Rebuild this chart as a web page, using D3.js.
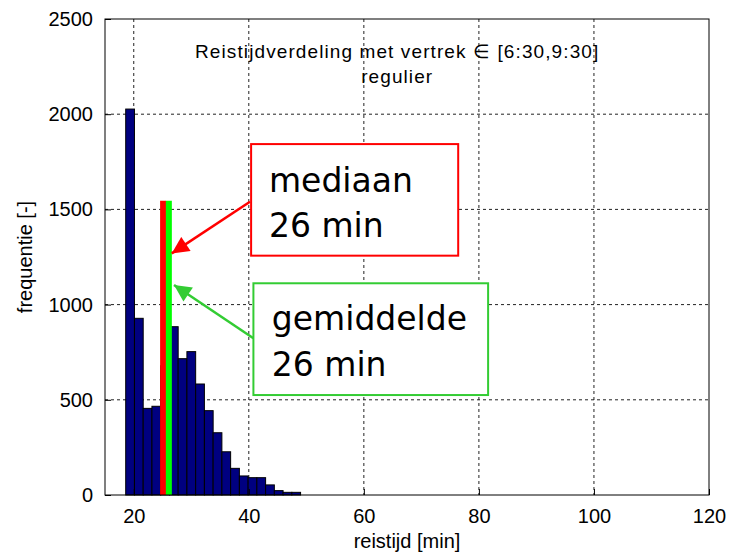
<!DOCTYPE html>
<html>
<head>
<meta charset="utf-8">
<script src="https://cdn.jsdelivr.net/npm/d3@7"></script>
<style>
  body { margin: 0; background: #fff; }
  svg { display: block; font-family: "Liberation Sans", Arial, sans-serif; }
</style>
</head>
<body>
<svg id="chart"></svg>
<script>
// Histogram of travel times (bin centres in minutes, counts)
const binCenters = [19.36, 20.88, 22.40, 23.92, 25.44, 26.96, 28.48, 30.00, 31.52, 33.04,
                    34.56, 36.08, 37.60, 39.12, 40.64, 42.16, 43.68, 45.20, 46.72, 48.24];
const binWidth = 1.52;
const counts = [2027, 928, 455, 466, 679, 884, 716, 753, 583, 443,
                327, 227, 140, 100, 91, 91, 53, 23, 14, 14];

const xTicks = [20, 40, 60, 80, 100, 120];
const yTicks = [0, 500, 1000, 1500, 2000, 2500];

// median / mean markers
const medianX = 25.1, meanX = 26.1, markerHeight = 1545;

const titleLines = ['Reistijdverdeling met vertrek \u2208 [6:30,9:30]', 'regulier'];

const width = 729, height = 553;
const margin = { top: 19, right: 20, bottom: 58, left: 105 };
const inner = { w: width - margin.left - margin.right, h: height - margin.top - margin.bottom };

const svg = d3.select('#chart').attr('width', width).attr('height', height);
const g = svg.append('g').attr('transform', `translate(${margin.left},${margin.top})`);

const x = d3.scaleLinear().domain([15, 120]).range([0, inner.w]);
const y = d3.scaleLinear().domain([0, 2500]).range([inner.h, 0]);

// Grid (dotted)
g.append('g')
    .selectAll('line')
    .data(yTicks.filter(d => d > 0 && d < 2500))
    .join('line')
    .attr('x1', 0).attr('x2', inner.w)
    .attr('y1', d => y(d)).attr('y2', d => y(d))
    .attr('stroke', '#222').attr('stroke-dasharray', '3,3');
g.append('g')
    .selectAll('line')
    .data(xTicks.filter(d => d < 120))
    .join('line')
    .attr('x1', d => x(d)).attr('x2', d => x(d))
    .attr('y1', 0).attr('y2', inner.h)
    .attr('stroke', '#222').attr('stroke-dasharray', '3,3');

// Bars
g.append('g')
    .selectAll('rect')
    .data(binCenters)
    .join('rect')
    .attr('x', d => x(d - binWidth / 2))
    .attr('y', (d, i) => y(counts[i]))
    .attr('width', x(binWidth) - x(0))
    .attr('height', (d, i) => inner.h - y(counts[i]))
    .attr('fill', '#000080')
    .attr('stroke', '#000')
    .attr('stroke-width', 1);

// Median and mean markers
g.append('line')
    .attr('x1', x(medianX)).attr('x2', x(medianX))
    .attr('y1', y(0)).attr('y2', y(markerHeight))
    .attr('stroke', '#ff0000').attr('stroke-width', 6);
g.append('line')
    .attr('x1', x(meanX)).attr('x2', x(meanX))
    .attr('y1', y(0)).attr('y2', y(markerHeight))
    .attr('stroke', '#00ff00').attr('stroke-width', 6);

// Axes (MATLAB style: ticks inside, box)
const tickLen = 6;
g.append('g')
    .attr('transform', `translate(0,${inner.h})`)
    .call(d3.axisBottom(x).tickValues(xTicks).tickFormat(d3.format('d')).tickSize(-tickLen).tickPadding(14))
    .call(a => a.select('.domain').remove())
    .selectAll('text')
    .style('font-size', '20px')
    .attr('fill', '#000');
g.append('g')
    .call(d3.axisLeft(y).tickValues(yTicks).tickFormat(d3.format('d')).tickSize(-tickLen).tickPadding(12))
    .call(a => a.select('.domain').remove())
    .selectAll('text')
    .style('font-size', '20px')
    .attr('fill', '#000');
g.append('rect')
    .attr('width', inner.w).attr('height', inner.h)
    .attr('fill', 'none').attr('stroke', '#000').attr('stroke-width', 1);

// Axis labels
svg.append('text')
    .attr('x', margin.left + inner.w / 2).attr('y', 548)
    .attr('text-anchor', 'middle')
    .style('font-size', '20px')
    .text('reistijd [min]');
svg.append('text')
    .attr('transform', `translate(32,${margin.top + inner.h / 2}) rotate(-90)`)
    .attr('text-anchor', 'middle')
    .style('font-size', '20px')
    .text('frequentie [-]');

// Title
titleLines.forEach((t, i) => {
    g.append('text')
        .attr('x', x(65.8)).attr('y', y(2295) + i * 25)
        .attr('text-anchor', 'middle')
        .style('font-size', '19px')
        .style('letter-spacing', '1.1px')
        .text(t);
});

// Annotations
const defs = svg.append('defs');
function arrowHead(id, color) {
    defs.append('marker')
        .attr('id', id)
        .attr('viewBox', '0 0 10 10')
        .attr('refX', 10).attr('refY', 5)
        .attr('markerUnits', 'userSpaceOnUse')
        .attr('markerWidth', 19).attr('markerHeight', 17)
        .attr('orient', 'auto')
        .append('path')
        .attr('d', 'M0,0 L10,5 L0,10 Z')
        .attr('fill', color);
}
arrowHead('ah-red', '#ff0000');
arrowHead('ah-green', '#33cc33');

const notes = [
    { color: '#ff0000', box: [40.4, 76.4, 1843, 1257], lines: ['mediaan', '26 min'],
      textX: 43.5, base: [1591, 1353], from: [40.2, 1540], to: [26.6, 1269], marker: 'ah-red' },
    { color: '#33cc33', box: [40.8, 81.6, 1112, 525], lines: ['gemiddelde', '26 min'],
      textX: 44.0, base: [867, 625], from: [40.8, 823], to: [27.0, 1103], marker: 'ah-green' }
];

notes.forEach(n => {
    g.append('line')
        .attr('x1', x(n.from[0])).attr('y1', y(n.from[1]))
        .attr('x2', x(n.to[0])).attr('y2', y(n.to[1]))
        .attr('stroke', n.color).attr('stroke-width', 2.5)
        .attr('marker-end', `url(#${n.marker})`);
    g.append('rect')
        .attr('x', x(n.box[0])).attr('y', y(n.box[2]))
        .attr('width', x(n.box[1]) - x(n.box[0]))
        .attr('height', y(n.box[3]) - y(n.box[2]))
        .attr('fill', '#fff')
        .attr('stroke', n.color).attr('stroke-width', 2);
    n.lines.forEach((t, i) => {
        g.append('text')
            .attr('x', x(n.textX)).attr('y', y(n.base[i]))
            .style('font-family', '"DejaVu Sans", sans-serif')
            .style('font-size', '33px')
            .text(t);
    });
});
</script>
</body>
</html>
